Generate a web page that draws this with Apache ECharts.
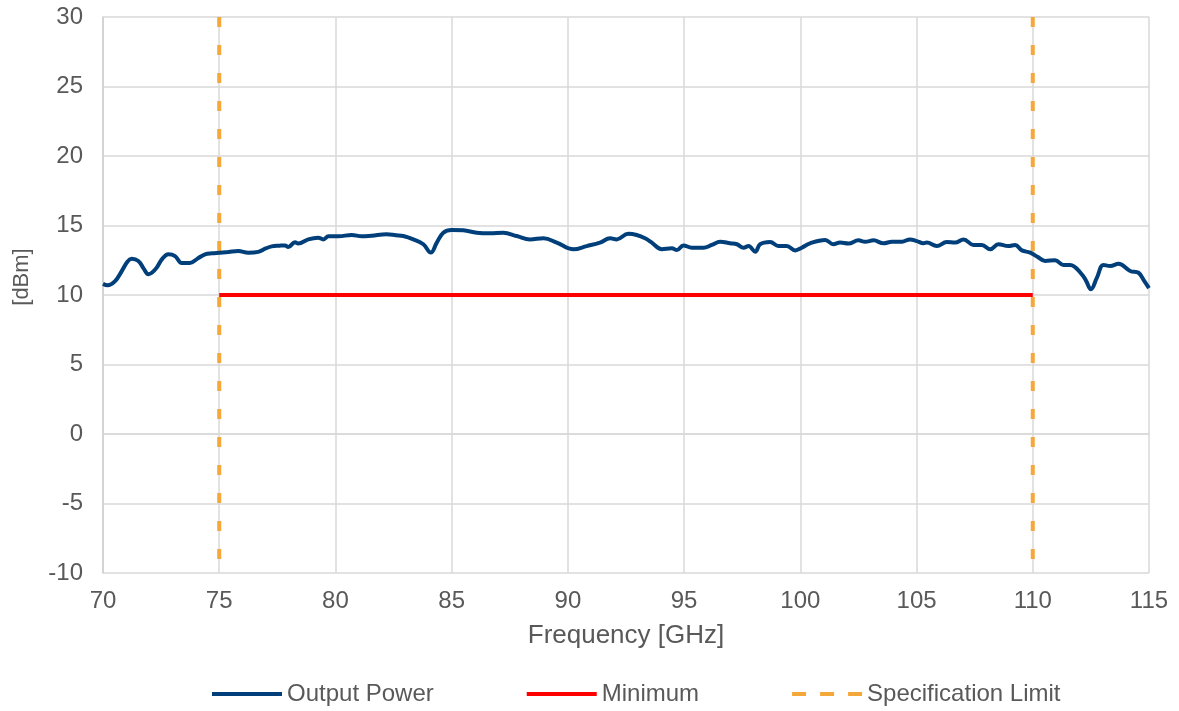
<!DOCTYPE html>
<html>
<head>
<meta charset="utf-8">
<script src="https://cdn.jsdelivr.net/npm/echarts@6/dist/echarts.min.js"></script>
<style>
  html, body { margin: 0; padding: 0; background: #fff; }
  #chart { width: 1179px; height: 711px; }
</style>
</head>
<body>
<div id="chart"></div>
<script>
  const freqGHz = [70.0, 70.2, 70.52, 70.8, 71.05, 71.23, 71.52, 71.75, 71.95, 72.1, 72.31, 72.55, 72.81, 73.1, 73.39, 73.74, 74.05, 74.39, 74.7, 75.03, 75.4, 75.82, 76.25, 76.68, 77.0, 77.26, 77.6, 77.83, 77.97, 78.26, 78.4, 78.83, 79.26, 79.48, 79.7, 80.13, 80.7, 81.13, 81.56, 82.2, 82.6, 82.92, 83.35, 83.78, 84.1, 84.36, 84.64, 85.0, 85.5, 86.08, 86.65, 87.22, 87.8, 88.37, 88.95, 89.52, 90.24, 90.81, 91.38, 91.82, 92.1, 92.6, 92.96, 93.32, 93.61, 94.04, 94.47, 94.69, 94.97, 95.33, 95.83, 96.19, 96.55, 96.98, 97.27, 97.56, 97.77, 98.06, 98.27, 98.7, 99.06, 99.42, 99.78, 100.06, 100.42, 101.07, 101.42, 101.71, 102.07, 102.5, 102.79, 103.15, 103.58, 103.94, 104.37, 104.72, 105.01, 105.3, 105.44, 105.87, 106.3, 106.66, 107.02, 107.45, 107.81, 108.17, 108.52, 108.95, 109.24, 109.53, 109.89, 110.2, 110.53, 110.96, 111.32, 111.61, 112.11, 112.3, 112.5, 112.76, 113.04, 113.33, 113.69, 114.19, 114.55, 114.8, 115.0]
  const powerDbm = [10.8, 10.7, 11.0, 11.7, 12.4, 12.6, 12.45, 11.9, 11.5, 11.6, 11.97, 12.6, 12.93, 12.8, 12.3, 12.3, 12.6, 12.93, 13.0, 13.04, 13.1, 13.17, 13.04, 13.1, 13.35, 13.5, 13.55, 13.57, 13.45, 13.8, 13.7, 14.0, 14.12, 14.0, 14.22, 14.22, 14.32, 14.22, 14.27, 14.37, 14.3, 14.24, 14.0, 13.65, 13.05, 13.77, 14.48, 14.68, 14.65, 14.48, 14.44, 14.48, 14.24, 14.0, 14.08, 13.77, 13.29, 13.52, 13.77, 14.08, 14.0, 14.41, 14.32, 14.08, 13.77, 13.29, 13.36, 13.24, 13.57, 13.4, 13.4, 13.6, 13.83, 13.72, 13.65, 13.4, 13.52, 13.12, 13.65, 13.81, 13.52, 13.52, 13.21, 13.4, 13.72, 13.96, 13.65, 13.77, 13.7, 13.93, 13.83, 13.93, 13.72, 13.83, 13.83, 14.0, 13.88, 13.72, 13.77, 13.52, 13.81, 13.77, 14.0, 13.6, 13.6, 13.29, 13.65, 13.52, 13.6, 13.21, 13.05, 12.75, 12.45, 12.5, 12.16, 12.16, 11.49, 11.0, 10.41, 11.25, 12.16, 12.09, 12.25, 11.73, 11.6, 11.0, 10.5]

  const minFreq = [75, 110]
  const minLevel = [10, 10]
  const specFreqs = [75, 110]
  const specRange = [30, -10]

  const seriesNames = ['Output Power', 'Minimum', 'Specification Limit']

  let chart = echarts.init(document.getElementById('chart'))
  let font = 'Liberation Sans, Arial, sans-serif'
  let textColor = '#595959'
  let gridColor = '#d9d9d9'
  let blue = '#003f7a'
  let red = '#ff0000'
  let orange = '#f5a83a'

  // legend icons drawn as plain bars (dashed for the spec limit)
  let solidIcon = 'path://M0,0h70v4h-70z'
  let dashIcon = 'path://M0,0h14v4h-14z M28,0h14v4h-14z M56,0h14v4h-14z'

  let specSeries = specFreqs.map((f) => {
    return {
      name: seriesNames[2],
      type: 'line',
      symbol: 'none',
      data: specRange.map((v) => [f, v]),
      lineStyle: { color: orange, width: 4, type: [10, 18] },
      itemStyle: { color: orange },
      z: 1
    }
  })

  let options = {
    animation: false,
    textStyle: { fontFamily: font },
    legend: {
      left: 207,
      top: 677,
      itemWidth: 70,
      itemHeight: 4,
      itemGap: 93,
      textStyle: { fontSize: 24, color: textColor, fontFamily: font },
      data: [
        { name: seriesNames[0], icon: solidIcon, itemStyle: { color: blue } },
        { name: seriesNames[1], icon: solidIcon, itemStyle: { color: red } },
        { name: seriesNames[2], icon: dashIcon, itemStyle: { color: orange } }
      ]
    },
    grid: {
      left: 103,
      right: 30,
      top: 17,
      bottom: 138
    },
    xAxis: {
      type: 'value',
      min: 70,
      max: 115,
      interval: 5,
      name: 'Frequency [GHz]',
      nameLocation: 'middle',
      nameGap: 50,
      nameTextStyle: { fontSize: 26, color: textColor, fontFamily: font },
      axisLine: { show: true, lineStyle: { color: gridColor, width: 1.5 } },
      axisTick: { show: false },
      axisLabel: { fontSize: 24, color: textColor, margin: 16, fontFamily: font },
      splitLine: { show: true, lineStyle: { color: gridColor, width: 1.5 } }
    },
    yAxis: {
      type: 'value',
      min: -10,
      max: 30,
      interval: 5,
      name: '[dBm]',
      nameLocation: 'middle',
      nameGap: 70,
      nameTextStyle: { fontSize: 22, color: textColor, fontFamily: font, padding: [0, 0, 0, 36] },
      axisLine: { show: true, lineStyle: { color: '#cfcfcf', width: 1.5 } },
      axisTick: { show: false },
      axisLabel: { fontSize: 24, color: textColor, margin: 20, fontFamily: font },
      splitLine: { show: true, lineStyle: { color: gridColor, width: 1.5 } }
    },
    series: [
      {
        name: seriesNames[0],
        type: 'line',
        symbol: 'none',
        smooth: 0.4,
        data: freqGHz.map((f, i) => [f, powerDbm[i]]),
        lineStyle: { color: blue, width: 4 },
        itemStyle: { color: blue },
        z: 3
      },
      {
        name: seriesNames[1],
        type: 'line',
        symbol: 'none',
        data: minFreq.map((f, i) => [f, minLevel[i]]),
        lineStyle: { color: red, width: 4 },
        itemStyle: { color: red },
        z: 2
      }
    ].concat(specSeries)
  }
  chart.setOption(options)
</script>
</body>
</html>
